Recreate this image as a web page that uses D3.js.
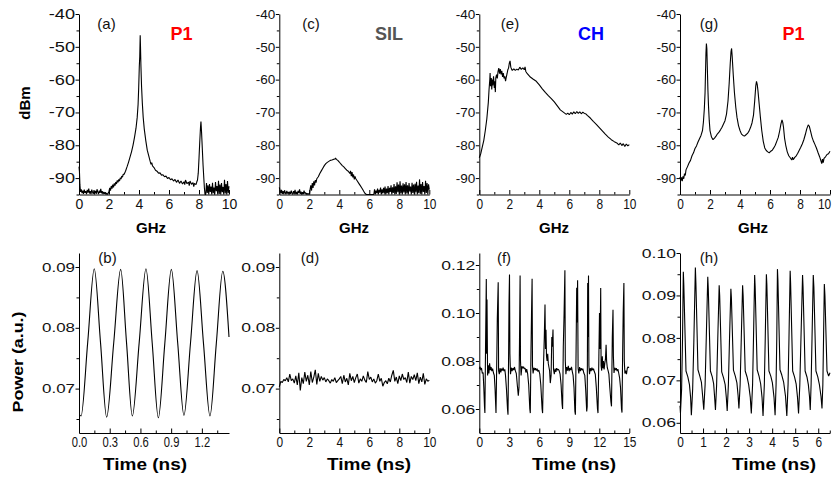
<!DOCTYPE html>
<html><head><meta charset="utf-8">
<script src="https://cdn.jsdelivr.net/npm/d3@7"></script>
<style>
body{margin:0;background:#fff;}
svg{display:block;font-family:"Liberation Sans",Arial,sans-serif;}
</style></head><body>
<svg id="c" width="832" height="486"></svg>
<script>
// ---------- DATA ----------
// (a) RF spectrum, P1  [GHz, dBm]
const specA = [[0.00,-86.5],[0.03,-88],[0.06,-92],[0.1,-94.2],[0.15,-93.4],[0.2,-94.6],[0.25,-93.8],[0.3,-94.8],[0.35,-93.5],[0.4,-94.5],[0.45,-94.0],[0.5,-94.9],[0.55,-93.6],[0.6,-94.4],[0.65,-93.2],[0.7,-94.7],[0.75,-94.0],[0.8,-94.9],[0.85,-93.5],[0.9,-94.3],[0.95,-94.8],[1.0,-93.7],[1.05,-94.6],[1.1,-93.9],[1.15,-94.8],[1.2,-93.4],[1.25,-94.2],[1.3,-94.9],[1.35,-93.8],[1.4,-94.5],[1.45,-93.3],[1.5,-94.6],[1.55,-94.0],[1.6,-94.9],[1.65,-94.2],[1.7,-94.8],[1.75,-94.3],[1.8,-95],[1.85,-94.5],[1.9,-95],[1.95,-94.6],[2.0,-94.0],[2.05,-93.0],[2.1,-93.8],[2.15,-92.4],[2.2,-93.2],[2.25,-92.0],[2.3,-92.8],[2.35,-91.6],[2.4,-92.3],[2.45,-91.2],[2.5,-91.8],[2.55,-90.7],[2.6,-91.3],[2.65,-90.4],[2.7,-90.9],[2.75,-89.9],[2.8,-90.3],[2.85,-89.4],[2.9,-89.7],[2.95,-88.8],[3.0,-88.9],[3.1,-87.9],[3.2,-86.6],[3.3,-85.2],[3.4,-83.6],[3.5,-82.0],[3.6,-80.0],[3.7,-77.6],[3.8,-74.8],[3.88,-71.5],[3.94,-67.5],[3.98,-62.5],[4.02,-56],[4.05,-53],[4.08,-46.5],[4.1,-50],[4.13,-56],[4.17,-62],[4.22,-67],[4.28,-71.5],[4.35,-75],[4.45,-78.5],[4.55,-81.5],[4.65,-83.2],[4.75,-85.0],[4.8,-85.8],[4.85,-85.3],[4.9,-86.3],[5.0,-86.8],[5.1,-87.6],[5.2,-87.9],[5.3,-88.5],[5.4,-88.4],[5.5,-89.1],[5.6,-89.0],[5.7,-89.6],[5.8,-89.4],[5.9,-90.1],[6.0,-89.8],[6.1,-90.5],[6.2,-90.2],[6.3,-90.9],[6.4,-90.4],[6.5,-91.3],[6.6,-90.6],[6.7,-91.6],[6.8,-90.9],[6.9,-91.8],[7.0,-91.1],[7.05,-92.0],[7.1,-90.6],[7.2,-91.7],[7.3,-91.2],[7.35,-92.3],[7.4,-90.9],[7.5,-91.9],[7.6,-91.4],[7.65,-92.6],[7.7,-91.6],[7.8,-92.0],[7.85,-91.2],[7.9,-90.6],[7.95,-88.5],[8.0,-84],[8.05,-79],[8.1,-74.5],[8.13,-72.8],[8.17,-76],[8.22,-81],[8.27,-86],[8.32,-90],[8.36,-93],[8.4,-95],[8.45,-95],[8.5,-91.5],[8.55,-94.5],[8.6,-92.2],[8.65,-95],[8.7,-91.8],[8.75,-94.2],[8.8,-92.6],[8.85,-95],[8.9,-91.4],[8.95,-94.6],[9.0,-92.9],[9.05,-95],[9.1,-91.2],[9.15,-94.0],[9.2,-92.4],[9.25,-95],[9.3,-90.8],[9.35,-94.8],[9.4,-92.0],[9.45,-95],[9.5,-91.5],[9.55,-94.3],[9.6,-92.7],[9.65,-95],[9.7,-90.5],[9.75,-94.7],[9.8,-91.8],[9.85,-95],[9.9,-90.9],[9.95,-94.6],[10,-92.5]];

// (c) RF spectrum, SIL
const specC = [[0,-92.8],[0.05,-93.8],[0.1,-94.6],[0.15,-93.6],[0.2,-94.8],[0.25,-94.0],[0.3,-94.9],[0.35,-93.7],[0.4,-94.5],[0.45,-94.9],[0.5,-93.9],[0.55,-94.7],[0.6,-94.2],[0.65,-95],[0.7,-94.1],[0.75,-94.8],[0.8,-93.8],[0.85,-94.6],[0.9,-95],[0.95,-94.0],[1.0,-94.7],[1.05,-93.6],[1.1,-94.9],[1.15,-94.2],[1.2,-95],[1.25,-93.9],[1.3,-94.6],[1.35,-93.4],[1.4,-94.8],[1.45,-94.1],[1.5,-95],[1.55,-94.3],[1.6,-94.9],[1.65,-93.8],[1.7,-94.7],[1.75,-94.4],[1.8,-95],[1.85,-94.6],[1.9,-95],[1.95,-94.7],[2.0,-95],[2.05,-93.5],[2.1,-92.2],[2.15,-93.8],[2.2,-91.5],[2.25,-93.0],[2.3,-91.0],[2.35,-92.2],[2.4,-90.6],[2.45,-91.4],[2.5,-90.2],[2.6,-89.6],[2.7,-88.6],[2.8,-87.8],[2.9,-87.0],[3.0,-86.2],[3.1,-85.6],[3.2,-85.2],[3.3,-84.9],[3.4,-84.6],[3.5,-84.5],[3.6,-84.3],[3.7,-84.2],[3.75,-83.9],[3.8,-84.3],[3.9,-84.6],[4.0,-85.1],[4.1,-85.7],[4.2,-86.2],[4.3,-86.6],[4.4,-87.1],[4.5,-87.6],[4.6,-87.9],[4.7,-88.6],[4.75,-87.8],[4.8,-89.4],[4.85,-88.2],[4.9,-89.8],[4.95,-88.9],[5.0,-90.4],[5.05,-89.5],[5.1,-90.2],[5.2,-90.9],[5.3,-91.6],[5.4,-92.3],[5.5,-93.0],[5.6,-93.8],[5.7,-94.6],[5.8,-95],[6.3,-95],[6.35,-93.4],[6.4,-95],[6.45,-93.8],[6.5,-94.6],[6.55,-93.2],[6.6,-95],[6.65,-93.6],[6.7,-94.4],[6.75,-92.9],[6.8,-95],[6.85,-93.4],[6.9,-94.7],[6.95,-93.0],[7.0,-94.5],[7.05,-92.6],[7.1,-95],[7.15,-93.2],[7.2,-94.6],[7.25,-92.4],[7.3,-95],[7.35,-93.0],[7.4,-94.2],[7.45,-92.2],[7.5,-95],[7.55,-92.8],[7.6,-94.5],[7.65,-91.8],[7.7,-95],[7.75,-92.5],[7.8,-94.8],[7.85,-91.3],[7.9,-94.3],[7.95,-92.0],[8.0,-95],[8.05,-91.0],[8.1,-94.6],[8.15,-92.3],[8.2,-95],[8.25,-91.6],[8.3,-94.4],[8.35,-91.9],[8.4,-95],[8.45,-91.2],[8.5,-94.7],[8.55,-92.2],[8.6,-95],[8.65,-91.5],[8.7,-94.1],[8.75,-92.6],[8.8,-95],[8.85,-91.4],[8.9,-94.5],[8.95,-92.0],[9.0,-95],[9.05,-91.7],[9.1,-94.3],[9.15,-91.1],[9.2,-95],[9.25,-92.3],[9.3,-94.6],[9.35,-90.4],[9.4,-94.8],[9.45,-91.8],[9.5,-95],[9.55,-91.2],[9.6,-94.2],[9.65,-92.4],[9.7,-95],[9.75,-90.8],[9.8,-94.5],[9.85,-91.5],[9.9,-95],[9.95,-91.9],[10,-93.5]];

// (e) RF spectrum, CH
const specE = [[0,-83.8],[0.1,-82.5],[0.2,-80.5],[0.3,-78.5],[0.4,-75.5],[0.5,-72],[0.6,-67],[0.65,-63],[0.7,-60],[0.72,-58],[0.75,-62],[0.8,-59.5],[0.83,-63],[0.87,-60],[0.9,-61.8],[0.95,-59],[1.0,-62.5],[1.03,-60.5],[1.07,-63.8],[1.1,-59.5],[1.15,-58.5],[1.2,-59.6],[1.25,-57.5],[1.3,-56.5],[1.35,-58.2],[1.4,-56.8],[1.45,-58.4],[1.5,-57.3],[1.55,-59.2],[1.6,-58],[1.65,-59.6],[1.7,-59],[1.75,-60.5],[1.8,-59.2],[1.85,-58.2],[1.9,-57],[1.95,-56.5],[2.0,-55],[2.05,-54.3],[2.1,-56.2],[2.15,-56.8],[2.2,-57.2],[2.3,-56.7],[2.4,-57.2],[2.5,-56.8],[2.6,-57.1],[2.7,-56.2],[2.8,-56.9],[2.9,-56.4],[3.0,-57.0],[3.05,-56.1],[3.1,-57.5],[3.2,-58.2],[3.4,-59.2],[3.6,-59.9],[3.8,-60.5],[4.0,-61.6],[4.2,-62.8],[4.4,-63.9],[4.6,-64.9],[4.8,-65.8],[5.0,-66.8],[5.2,-68.0],[5.4,-69.2],[5.6,-69.9],[5.8,-70.6],[5.9,-70.2],[6.0,-70.7],[6.1,-70.0],[6.2,-70.5],[6.3,-69.8],[6.4,-70.4],[6.5,-69.7],[6.6,-70.3],[6.7,-69.8],[6.8,-70.4],[6.9,-69.9],[7.0,-70.3],[7.1,-70.4],[7.2,-70.9],[7.4,-71.7],[7.6,-72.7],[7.8,-73.6],[8.0,-74.6],[8.2,-75.6],[8.4,-76.6],[8.6,-77.5],[8.8,-78.3],[9.0,-78.9],[9.2,-79.4],[9.3,-79.9],[9.4,-79.3],[9.5,-80.1],[9.6,-79.5],[9.7,-80.4],[9.8,-79.6],[9.9,-80.2],[10,-79.8]];

// (g) RF spectrum, P1
const specG = [[0,-89.6],[0.05,-90.8],[0.1,-89.8],[0.15,-90.9],[0.2,-89.5],[0.25,-90.2],[0.3,-88.6],[0.35,-89.2],[0.4,-87.5],[0.5,-86.5],[0.6,-85.4],[0.7,-84.6],[0.8,-83.2],[0.9,-82.3],[1.0,-81.0],[1.1,-80.2],[1.2,-79.0],[1.3,-78.0],[1.4,-77.0],[1.5,-75.5],[1.56,-73],[1.62,-69],[1.67,-64],[1.7,-58],[1.73,-52],[1.76,-49],[1.79,-50.5],[1.82,-56],[1.86,-63],[1.9,-68],[1.95,-72.5],[2.0,-75.5],[2.1,-77.5],[2.2,-78.3],[2.3,-77.8],[2.4,-77.2],[2.5,-76.5],[2.6,-76],[2.7,-75.3],[2.8,-74.5],[2.9,-73.5],[3.0,-72.5],[3.1,-70.5],[3.2,-66.5],[3.28,-61],[3.35,-55],[3.4,-51.5],[3.44,-50.5],[3.48,-53],[3.55,-58.5],[3.63,-64],[3.72,-68.5],[3.8,-71.5],[3.9,-74],[4.0,-75.5],[4.1,-76.6],[4.2,-77.0],[4.3,-77.2],[4.4,-76.8],[4.5,-76.4],[4.6,-75.7],[4.7,-74.6],[4.8,-73.2],[4.9,-70.8],[4.98,-66.5],[5.05,-62],[5.1,-60.5],[5.15,-61.5],[5.2,-63.5],[5.28,-67.5],[5.36,-71.5],[5.45,-75.5],[5.55,-78.8],[5.65,-80.8],[5.75,-81.6],[5.85,-82.0],[5.95,-82.3],[6.05,-81.8],[6.15,-81.5],[6.25,-80.8],[6.35,-80.0],[6.45,-78.8],[6.55,-77.6],[6.65,-75.5],[6.73,-73.5],[6.8,-72.3],[6.85,-73.0],[6.9,-74.5],[6.97,-77.8],[7.05,-80.0],[7.15,-82.0],[7.25,-83.2],[7.35,-83.8],[7.45,-84.5],[7.5,-83.6],[7.55,-84.4],[7.65,-83.7],[7.75,-83.2],[7.85,-82.4],[7.95,-81.5],[8.05,-80.6],[8.15,-79.6],[8.25,-78.4],[8.35,-76.8],[8.45,-75.0],[8.55,-73.8],[8.62,-74.2],[8.7,-75.6],[8.8,-77.5],[8.9,-78.8],[9.0,-79.8],[9.1,-80.9],[9.2,-82.2],[9.3,-83.4],[9.4,-84.8],[9.45,-85.6],[9.5,-84.2],[9.55,-85.3],[9.6,-84.0],[9.7,-83.5],[9.8,-82.8],[9.9,-82.6],[10,-81.8]];

// (b) time trace, P1  [ns, a.u.]
const timeB = [[0.005,0.0657],[0.02,0.0655],[0.085,0.0776],[0.149,0.0897],[0.21,0.0776],[0.270,0.0653],[0.339,0.0775],[0.407,0.0896],[0.464,0.0776],[0.521,0.0655],[0.588,0.0776],[0.654,0.0897],[0.715,0.0775],[0.775,0.0652],[0.838,0.0774],[0.902,0.0896],[0.964,0.0775],[1.025,0.0656],[1.089,0.0775],[1.153,0.0894],[1.216,0.0774],[1.279,0.0655],[1.341,0.0774],[1.404,0.0893],[1.465,0.0785]];

// (d) time trace, SIL (sampled every 0.1 ns)
const stepD = 0.1;
const valsD = [0.0703,0.0712,0.0710,0.0715,0.0713,0.0718,0.0711,0.0724,0.0713,0.0716,
0.0709,0.0721,0.0706,0.0726,0.0697,0.0718,0.0708,0.0727,0.0712,0.0722,
0.0706,0.0728,0.0710,0.0719,0.0731,0.0707,0.0725,0.0712,0.0720,0.0714,
0.0718,0.0711,0.0716,0.0713,0.0709,0.0715,0.0712,0.0718,0.0710,0.0713,
0.0716,0.0720,0.0708,0.0722,0.0711,0.0717,0.0706,0.0725,0.0713,0.0720,
0.0710,0.0718,0.0724,0.0709,0.0716,0.0712,0.0721,0.0714,0.0710,0.0728,
0.0715,0.0719,0.0711,0.0716,0.0709,0.0713,0.0724,0.0712,0.0717,0.0704,
0.0710,0.0713,0.0708,0.0717,0.0711,0.0722,0.0730,0.0712,0.0719,0.0708,
0.0721,0.0713,0.0724,0.0715,0.0718,0.0710,0.0727,0.0709,0.0720,0.0715,
0.0723,0.0713,0.0726,0.0708,0.0719,0.0711,0.0725,0.0707,0.0716,0.0712,0.0714];

// (f) time trace, CH
const timeF = [[0.00,0.0768],[0.08,0.0776],[0.15,0.0762],[0.22,0.0771],[0.30,0.0748],[0.38,0.0752],[0.45,0.0690],[0.52,0.0610],[0.56,0.0583],[0.62,0.0842],[0.70,0.1142],[0.73,0.0830],[0.77,0.1056],[0.83,0.0740],[0.90,0.0782],[0.96,0.0748],[1.03,0.0790],[1.10,0.0762],[1.18,0.0775],[1.25,0.0758],[1.33,0.0768],[1.42,0.0750],[1.50,0.0740],[1.58,0.0680],[1.67,0.0583],[1.74,0.0780],[1.80,0.0975],[1.89,0.1128],[1.93,0.0760],[2.00,0.0745],[2.07,0.0770],[2.15,0.0752],[2.22,0.0768],[2.30,0.0760],[2.38,0.0772],[2.46,0.0758],[2.55,0.0765],[2.62,0.0740],[2.72,0.0680],[2.82,0.0600],[2.87,0.0576],[2.93,0.0820],[2.97,0.1040],[3.02,0.1160],[3.06,0.0830],[3.12,0.0745],[3.20,0.0772],[3.28,0.0758],[3.36,0.0770],[3.44,0.0762],[3.52,0.0775],[3.60,0.0760],[3.70,0.0748],[3.80,0.0700],[3.90,0.0655],[3.97,0.0690],[4.02,0.0880],[4.08,0.1156],[4.12,0.0800],[4.18,0.0740],[4.26,0.0778],[4.34,0.0770],[4.42,0.0776],[4.50,0.0768],[4.58,0.0770],[4.66,0.0752],[4.74,0.0766],[4.84,0.0745],[4.94,0.0700],[5.05,0.0600],[5.10,0.0583],[5.17,0.0850],[5.22,0.0990],[5.28,0.1143],[5.32,0.0780],[5.38,0.0748],[5.46,0.0772],[5.54,0.0762],[5.62,0.0770],[5.70,0.0760],[5.78,0.0768],[5.86,0.0756],[5.95,0.0762],[6.05,0.0745],[6.15,0.0700],[6.28,0.0600],[6.33,0.0583],[6.42,0.0780],[6.50,0.0900],[6.57,0.1035],[6.62,0.0850],[6.67,0.0930],[6.72,0.0820],[6.78,0.0800],[6.84,0.0830],[6.90,0.0790],[6.96,0.0775],[7.03,0.0760],[7.10,0.0708],[7.18,0.0740],[7.25,0.0900],[7.30,0.0860],[7.37,0.0931],[7.42,0.0765],[7.50,0.0745],[7.58,0.0768],[7.66,0.0755],[7.74,0.0770],[7.82,0.0762],[7.90,0.0766],[7.98,0.0760],[8.08,0.0745],[8.18,0.0700],[8.28,0.0620],[8.33,0.0600],[8.40,0.0860],[8.48,0.1000],[8.56,0.1178],[8.60,0.0800],[8.66,0.0745],[8.74,0.0775],[8.82,0.0760],[8.90,0.0780],[8.98,0.0758],[9.06,0.0770],[9.14,0.0762],[9.22,0.0776],[9.30,0.0756],[9.38,0.0740],[9.47,0.0690],[9.56,0.0590],[9.61,0.0576],[9.68,0.0850],[9.74,0.1105],[9.78,0.0960],[9.83,0.1136],[9.88,0.0770],[9.95,0.0748],[10.03,0.0775],[10.11,0.0758],[10.19,0.0770],[10.27,0.0762],[10.35,0.0768],[10.45,0.0750],[10.55,0.0740],[10.64,0.0680],[10.74,0.0590],[10.79,0.0610],[10.84,0.1125],[10.88,0.0900],[10.92,0.1156],[10.96,0.0780],[11.02,0.0745],[11.10,0.0770],[11.18,0.0758],[11.26,0.0772],[11.34,0.0762],[11.42,0.0768],[11.50,0.0756],[11.60,0.0745],[11.70,0.0690],[11.82,0.0600],[11.87,0.0583],[11.95,0.0800],[12.02,0.1000],[12.08,0.0850],[12.14,0.1104],[12.18,0.0780],[12.24,0.0760],[12.30,0.0820],[12.36,0.0770],[12.42,0.0800],[12.48,0.0765],[12.55,0.0790],[12.62,0.0810],[12.68,0.0868],[12.73,0.0800],[12.80,0.0772],[12.88,0.0760],[12.96,0.0745],[13.05,0.0690],[13.16,0.0630],[13.22,0.0611],[13.30,0.0900],[13.37,0.1014],[13.41,0.0820],[13.47,0.0750],[13.54,0.0772],[13.62,0.0762],[13.70,0.0770],[13.78,0.0758],[13.86,0.0766],[13.94,0.0750],[14.03,0.0730],[14.12,0.0690],[14.22,0.0600],[14.27,0.0585],[14.33,0.0820],[14.39,0.1000],[14.46,0.1125],[14.50,0.0800],[14.56,0.0748],[14.64,0.0760],[14.72,0.0745],[14.80,0.0770],[14.88,0.0776],[14.96,0.0771]];

// (h) time trace, P1
const timeH = [[0,0.0640],[0.02,0.0623],[0.07,0.0680],[0.11,0.0800],[0.144,0.0956],[0.165,0.0925],[0.26,0.0722],[0.34,0.0708],[0.41,0.0690],[0.46,0.0660],[0.493,0.0618],
[0.55,0.0680],[0.60,0.0790],[0.667,0.0966],[0.69,0.0930],[0.78,0.0725],[0.86,0.0710],[0.93,0.0695],[0.98,0.0665],[1.031,0.0631],
[1.09,0.0690],[1.14,0.0800],[1.205,0.0944],[1.228,0.0915],[1.32,0.0722],[1.40,0.0708],[1.46,0.0692],[1.50,0.0662],[1.539,0.0630],
[1.59,0.0690],[1.64,0.0800],[1.700,0.0924],[1.722,0.0900],[1.81,0.0720],[1.89,0.0706],[1.96,0.0690],[2.01,0.0660],[2.048,0.0628],
[2.10,0.0690],[2.15,0.0800],[2.208,0.0916],[2.23,0.0895],[2.32,0.0724],[2.40,0.0710],[2.47,0.0694],[2.52,0.0665],[2.557,0.0634],
[2.61,0.0690],[2.66,0.0800],[2.717,0.0924],[2.74,0.0900],[2.83,0.0722],[2.91,0.0708],[2.98,0.0690],[3.05,0.0660],[3.095,0.0622],
[3.15,0.0690],[3.19,0.0800],[3.240,0.0948],[3.262,0.0920],[3.35,0.0725],[3.43,0.0710],[3.50,0.0692],[3.56,0.0660],[3.604,0.0616],
[3.66,0.0690],[3.70,0.0800],[3.749,0.0950],[3.77,0.0925],[3.86,0.0722],[3.94,0.0710],[4.01,0.0694],[4.08,0.0660],[4.127,0.0618],
[4.17,0.0690],[4.20,0.0800],[4.229,0.0962],[4.25,0.0935],[4.34,0.0725],[4.42,0.0712],[4.50,0.0695],[4.58,0.0662],[4.636,0.0616],
[4.69,0.0690],[4.73,0.0800],[4.781,0.0958],[4.80,0.0930],[4.89,0.0722],[4.97,0.0708],[5.04,0.0692],[5.10,0.0660],[5.145,0.0622],
[5.20,0.0690],[5.25,0.0800],[5.319,0.0948],[5.34,0.0920],[5.43,0.0722],[5.51,0.0708],[5.57,0.0690],[5.62,0.0662],[5.653,0.0630],
[5.69,0.0690],[5.73,0.0800],[5.784,0.0948],[5.81,0.0920],[5.90,0.0722],[5.98,0.0708],[6.05,0.0690],[6.12,0.0662],[6.162,0.0634],
[6.20,0.0690],[6.23,0.0800],[6.264,0.0927],[6.29,0.0900],[6.38,0.0722],[6.45,0.0710],[6.51,0.0718]];

// tick values
const dbTicks = [-90,-80,-70,-60,-50,-40];
const dbMinor = [-95,-85,-75,-65,-55,-45];
const ghzTicks = [0,2,4,6,8,10];
const ghzMinor = [1,3,5,7,9];
const bdTicks = [0.07,0.08,0.09], bdMinor = [0.065,0.075,0.085];
const fTicks = [0.06,0.08,0.10,0.12], fMinor = [0.07,0.09,0.11];
const hTicks = [0.06,0.07,0.08,0.09,0.10], hMinor = [0.065,0.075,0.085,0.095];
const bX = [0.0,0.3,0.6,0.9,1.2], bXm = [0.15,0.45,0.75,1.05,1.35];
const dX = [0,2,4,6,8,10], dXm = [1,3,5,7,9];
const fX = [0,3,6,9,12,15], fXm = [1.5,4.5,7.5,10.5,13.5];
const hX = [0,1,2,3,4,5,6], hXm = [0.5,1.5,2.5,3.5,4.5,5.5,6.5];

// ---------- DRAW ----------
const svg = d3.select("#c");
svg.append("rect").attr("width",832).attr("height",486).attr("fill","#fff");
const pw = 150;
const topR = [194.5,14], botR = [433,253];

function fit(sel,f){
  sel.each(function(){
    const n = this.getComputedTextLength();
    d3.select(this).attr("textLength", n*f).attr("lengthAdjust","spacingAndGlyphs");
  });
}

function panel(o){
  const x = d3.scaleLinear().domain(o.xd).range([o.left, o.left+pw]);
  const y = d3.scaleLinear().domain(o.yd).range(o.yr);
  const g = svg.append("g");
  const y0 = o.yr[0];
  g.append("g").attr("transform",`translate(0,${y0})`)
    .call(d3.axisBottom(x).tickValues(o.xm).tickSizeInner(-2.5).tickSizeOuter(0).tickFormat(""))
    .call(s=>s.select(".domain").remove());
  g.append("g").attr("transform",`translate(${o.left},0)`)
    .call(d3.axisLeft(y).tickValues(o.ym).tickSizeInner(2.5).tickSizeOuter(0).tickFormat(""))
    .call(s=>s.select(".domain").remove());
  const ax = g.append("g").attr("transform",`translate(0,${y0})`)
    .call(d3.axisBottom(x).tickValues(o.xt).tickSizeInner(-4.5).tickSizeOuter(0).tickPadding(4.5).tickFormat(o.xf));
  ax.selectAll("text").attr("font-size",o.xfs).attr("font-family",'"Liberation Sans",Arial,sans-serif').attr("fill","#111");
  fit(ax.selectAll("text"), o.xk);
  if (o.lastShift) ax.selectAll("text").filter((d,i,n)=>i===n.length-1).attr("x",o.lastShift);
  const ay = g.append("g").attr("transform",`translate(${o.left},0)`)
    .call(d3.axisLeft(y).tickValues(o.yt).tickSizeInner(3.5).tickSizeOuter(0).tickPadding(0.5).tickFormat(o.yf));
  ay.selectAll("text").attr("font-size",o.yfs).attr("font-family",'"Liberation Sans",Arial,sans-serif').attr("fill","#111");
  fit(ay.selectAll("text"), o.yk);
  g.selectAll(".domain, .tick line").attr("stroke","#000").attr("stroke-width",1);
  g.append("path").datum(o.data)
    .attr("d", d3.line().x(d=>x(d[0])).y(d=>y(d[1])).curve(o.curve || d3.curveLinear))
    .attr("fill","none").attr("stroke","#000").attr("stroke-width",1.1).attr("stroke-linejoin","bevel");
  svg.append("text").attr("x",o.tag[1]).attr("y",o.tag[2]).attr("text-anchor","middle")
    .attr("font-size",15).attr("fill","#111").text(o.tag[0]);
}

const fInt = d => String(d);
const f2 = d3.format(".2f");
const f1 = d3.format(".1f");

panel({left:79, xd:[0,10], yd:[-95,-40], yr:topR, xt:ghzTicks, xm:ghzMinor, yt:dbTicks, ym:dbMinor,
  xf:fInt, yf:fInt, xfs:14, xk:1.0, yfs:14, yk:1.3, data:specA, tag:["(a)",106.5,29]});
panel({left:279.3, xd:[0,10], yd:[-95,-40], yr:topR, xt:ghzTicks, xm:ghzMinor, yt:dbTicks, ym:dbMinor,
  xf:fInt, yf:fInt, xfs:14, xk:0.85, yfs:13.5, yk:1.0, data:specC, tag:["(c)",311,29]});
panel({left:479.3, xd:[0,10], yd:[-95,-40], yr:topR, xt:ghzTicks, xm:ghzMinor, yt:dbTicks, ym:dbMinor,
  xf:fInt, yf:fInt, xfs:14, xk:0.85, yfs:13.5, yk:1.0, data:specE, tag:["(e)",510,29]});
panel({left:680, xd:[0,10], yd:[-95,-40], yr:topR, xt:ghzTicks, xm:ghzMinor, yt:dbTicks, ym:dbMinor,
  xf:fInt, yf:fInt, xfs:14, xk:0.85, yfs:13.5, yk:1.0, data:specG, tag:["(g)",709,29], lastShift:-6});

panel({left:79, xd:[0,1.465], yd:[0.0627,0.0923], yr:botR, xt:bX, xm:bXm, yt:bdTicks, ym:bdMinor,
  xf:f1, yf:f2, xfs:14, xk:0.8, yfs:13, yk:1.3, data:timeB, curve:d3.curveMonotoneX, tag:["(b)",107.5,263]});
panel({left:279.3, xd:[0,10], yd:[0.0627,0.0923], yr:botR, xt:dX, xm:dXm, yt:bdTicks, ym:bdMinor,
  xf:fInt, yf:f2, xfs:14, xk:0.85, yfs:13, yk:1.35, data:valsD.map((v,i)=>[i*stepD, v]), tag:["(d)",310,263]});
panel({left:479.3, xd:[0,15], yd:[0.05,0.125], yr:botR, xt:fX, xm:fXm, yt:fTicks, ym:fMinor,
  xf:fInt, yf:f2, xfs:14, xk:0.85, yfs:13, yk:1.35, data:timeF, tag:["(f)",504,263]});
panel({left:680, xd:[0,6.51], yd:[0.0576,0.1], yr:botR, xt:hX, xm:hXm, yt:hTicks, ym:hMinor,
  xf:fInt, yf:f2, xfs:14, xk:0.85, yfs:13, yk:1.35, data:timeH, tag:["(h)",709,263]});

function label(txt,x,y,size,rot,len){
  const t = svg.append("text").attr("text-anchor","middle").attr("font-weight","bold")
    .attr("font-size",size).attr("fill","#000")
    .attr("transform",`translate(${x},${y})${rot?" rotate(-90)":""}`).text(txt);
  if(len) t.attr("textLength",len).attr("lengthAdjust","spacingAndGlyphs");
  return t;
}
label("dBm",30,103,15,true);
label("Power (a.u.)",23,362,15,true,101);
[151,354,554,753].forEach(cx=>label("GHz",cx,233,15,false));
[145,369,574,774].forEach(cx=>label("Time (ns)",cx,470,16,false,84));

const regimes = [["P1",181.5,"#ff0000"],["SIL",389,"#555555"],["CH",591,"#0000ff"],["P1",793.5,"#ff0000"]];
regimes.forEach(r=>svg.append("text").attr("x",r[1]).attr("y",40).attr("text-anchor","middle")
  .attr("font-weight","bold").attr("font-size",18).attr("fill",r[2]).text(r[0]));
</script>
</body></html>
